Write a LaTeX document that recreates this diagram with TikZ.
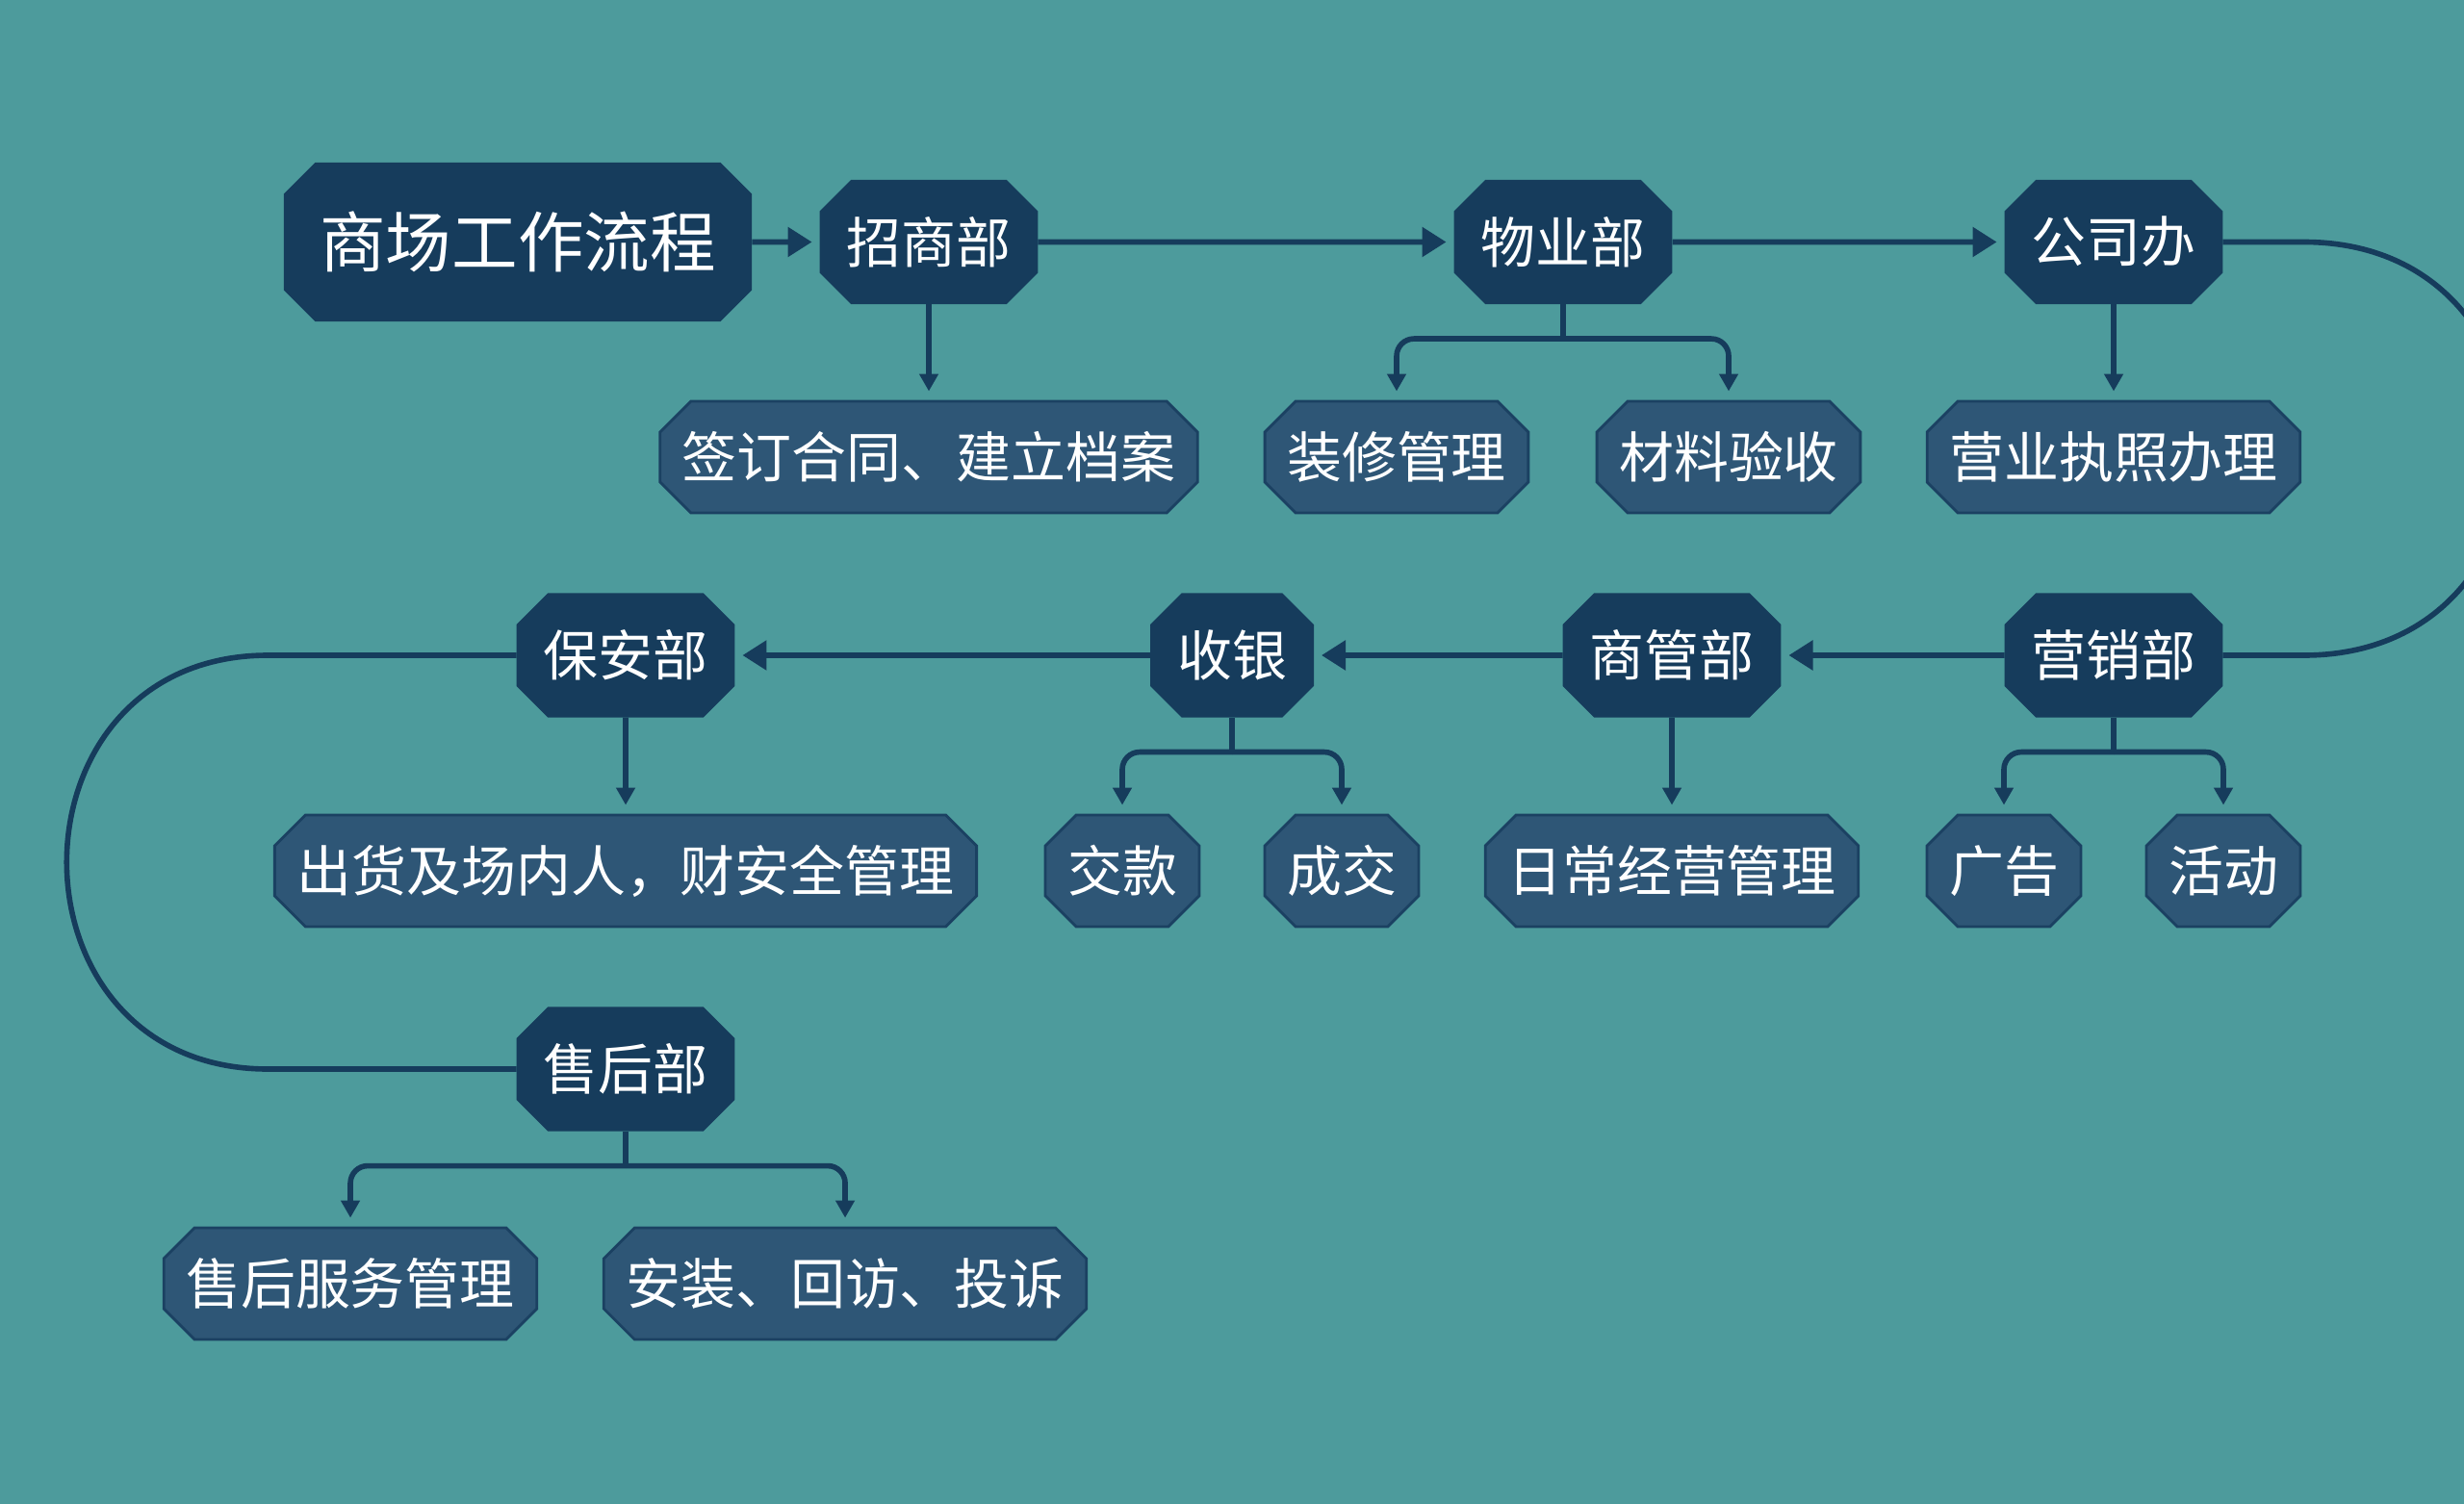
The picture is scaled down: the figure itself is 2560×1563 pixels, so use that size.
\documentclass[tikz,border=0pt]{standalone}
\usepackage{fontspec}
\usepackage{tikz}
\usetikzlibrary{arrows.meta,shapes.misc,calc}
\newfontfamily\cjk{Noto Sans CJK SC}
\definecolor{mteal}{RGB}{77,155,156}
\definecolor{mnavy}{RGB}{22,60,92}
\definecolor{mleaf}{RGB}{46,86,118}
\definecolor{medge}{RGB}{27,65,98}

\begin{document}
\begin{tikzpicture}[x=0.1mm,y=-0.1mm,>={Triangle[length=2.5mm,width=3mm]},
  every node/.style={font=\cjk\fontsize{16.2}{18}\selectfont,text=white},
  chbox/.style={chamfered rectangle,chamfered rectangle sep=1.6mm,inner ysep=0pt},
  dept/.style={chbox,fill=mnavy,draw=mnavy,line width=0.6pt,inner xsep=1.1mm,minimum height=12.7mm},
  leaf/.style={chbox,fill=mleaf,draw=medge,line width=0.8pt,inner xsep=0.7mm,minimum height=11.6mm},
  flow/.style={mnavy,line width=1.6pt},
  mainarrow/.style={flow,->,shorten >=0.8mm},
  subarrow/.style={flow,-{Triangle[length=1.8mm,width=1.9mm]},shorten >=0.9mm,rounded corners=1.8mm}]
  % background
  \useasboundingbox (0,0) rectangle (2560,1563);
  \fill[mteal] (0,0) rectangle (2560,1563);
  \clip (0,0) rectangle (2560,1563);
  % title and first row
  \node[dept,inner xsep=2.05mm,minimum height=16.3mm,font=\cjk\fontsize{19.5}{22}\selectfont] (title) at (538,251.5) {商场工作流程};
  \node[dept] (zs) at (965,251.5) {招商部};
  \node[dept] (wy) at (1624,251.5) {物业部};
  \node[dept] (gs) at (2196,251.5) {公司办};
  \node[leaf] (qd) at (965,475) {签订合同、建立档案};
  \node[leaf] (zx) at (1451,475) {装修管理};
  \node[leaf] (cl) at (1796,475) {材料验收};
  \node[leaf] (yy) at (2196,475) {营业执照办理};
  % second row
  \node[dept] (ba) at (650,681) {保安部};
  \node[dept] (sy) at (1280,681) {收银};
  \node[dept] (sg) at (1737,681) {商管部};
  \node[dept] (yx) at (2196,681) {营销部};
  \node[leaf] (ch) at (650,905) {出货及场内人，财安全管理};
  \node[leaf] (jk) at (1166,905) {交款};
  \node[leaf] (cj) at (1394,905) {成交};
  \node[leaf] (rc) at (1737,905) {日常经营管理};
  \node[leaf] (gg) at (2082,905) {广告};
  \node[leaf] (hd) at (2310,905) {活动};
  % third row
  \node[dept] (sh) at (650,1111) {售后部};
  \node[leaf] (fw) at (364,1334) {售后服务管理};
  \node[leaf] (az) at (878,1334) {安装、回访、投诉};
  % main flow
  \draw[mainarrow] (title) -- (zs);
  \draw[mainarrow] (zs) -- (wy);
  \draw[mainarrow] (wy) -- (gs);
  \draw[flow] (gs.east) -- ++(84,0) .. controls +(286,0) and +(286,0) .. ($(yx.east)+(84,0)$) -- (yx.east);
  \draw[mainarrow] (yx) -- (sg);
  \draw[mainarrow] (sg) -- (sy);
  \draw[mainarrow] (sy) -- (ba);
  \draw[flow] (ba.west) -- ++(-258,0) .. controls +(-279,0) and +(-279,0) .. ($(sh.west)+(-258,0)$) -- (sh.west);
  % branches
  \draw[subarrow] (zs) -- (qd);
  \draw[subarrow] (gs) -- (yy);
  \draw[subarrow] (ba) -- (ch);
  \draw[subarrow] (sg) -- (rc);
  \draw[flow] (wy.south) -- ++(0,36) coordinate (wyb);
  \draw[subarrow] (wyb) -| (zx);
  \draw[subarrow] (wyb) -| (cl);
  \draw[flow] (sy.south) -- ++(0,36) coordinate (syb);
  \draw[subarrow] (syb) -| (jk);
  \draw[subarrow] (syb) -| (cj);
  \draw[flow] (yx.south) -- ++(0,36) coordinate (yxb);
  \draw[subarrow] (yxb) -| (gg);
  \draw[subarrow] (yxb) -| (hd);
  \draw[flow] (sh.south) -- ++(0,36) coordinate (shb);
  \draw[subarrow] (shb) -| (fw);
  \draw[subarrow] (shb) -| (az);
\end{tikzpicture}
\end{document}
